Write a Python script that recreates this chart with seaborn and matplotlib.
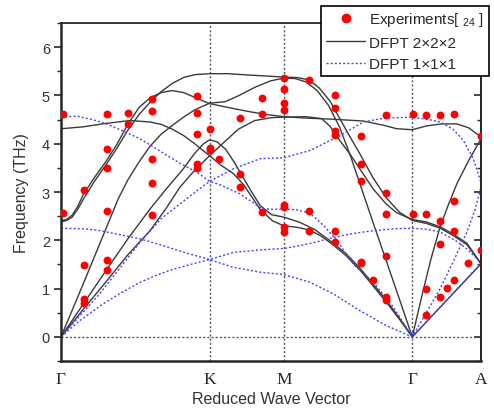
import pandas as pd
import seaborn as sns
import matplotlib.pyplot as plt
from matplotlib.lines import Line2D
from matplotlib.ticker import MultipleLocator

# high-symmetry points along the path G-K-M-G-A
sym_pos = [0.0, 0.667, 1.0, 1.577, 1.885]
sym_labels = ['Γ', 'K', 'M', 'Γ', 'A']

exp_x = [0.007, 0.007,
         0.103, 0.103, 0.103, 0.103,
         0.205, 0.205, 0.205, 0.205, 0.205, 0.205,
         0.30, 0.30,
         0.41, 0.41, 0.41, 0.41, 0.41,
         0.61, 0.61, 0.61, 0.61, 0.61,
         0.669, 0.669, 0.669, 0.711,
         0.804, 0.804, 0.804,
         0.904, 0.904, 0.901,
         1.0, 1.0, 1.0, 1.0, 1.0, 1.0, 1.0, 1.0,
         1.115, 1.115, 1.115,
         1.232, 1.232, 1.232, 1.232, 1.232, 1.232,
         1.346, 1.346, 1.346, 1.346, 1.346,
         1.402,
         1.459, 1.459, 1.459, 1.459, 1.459, 1.459,
         1.578, 1.578,
         1.639, 1.639, 1.639, 1.639,
         1.702, 1.702, 1.702, 1.702,
         1.732,
         1.762, 1.762, 1.762, 1.766,
         1.826,
         1.885, 1.885]
exp_y = [4.61, 2.57,
         3.05, 1.49, 0.78, 0.70,
         4.61, 3.89, 3.49, 2.61, 1.60, 1.39,
         4.63, 4.40,
         4.93, 4.68, 3.69, 3.18, 2.52,
         4.99, 4.63, 4.20, 3.58, 3.50,
         4.31, 3.91, 3.86, 3.69,
         4.54, 3.38, 3.11,
         4.94, 4.61, 2.59,
         5.36, 5.14, 4.84, 4.70, 2.73, 2.68, 2.27, 2.18,
         5.31, 2.61, 2.20,
         5.01, 4.74, 4.27, 4.19, 2.20, 1.96,
         4.17, 3.58, 3.22, 1.56, 1.52,
         1.18,
         4.60, 2.98, 2.55, 1.67, 0.83, 0.77,
         4.61, 2.55,
         4.59, 2.55, 1.00, 0.45,
         4.59, 2.40, 1.93, 0.82,
         1.01,
         4.61, 2.81, 2.20, 1.18,
         1.53,
         4.15, 1.79]

# DFPT 2x2x2 branches, (q, THz)
dfpt2_ac1 = [(0, 0), (0.1, 1.1), (0.183, 2.03), (0.257, 2.86), (0.3, 3.25), (0.35, 3.62),
             (0.4, 3.95), (0.45, 4.2), (0.5, 4.38), (0.55, 4.55), (0.6, 4.7), (0.667, 4.84),
             (0.737, 4.87), (0.8, 5.0), (0.871, 5.17), (0.94, 5.3), (1.0, 5.36), (1.05, 5.35),
             (1.1, 5.28), (1.15, 5.1), (1.2, 4.8), (1.25, 4.35), (1.3, 3.74), (1.4, 2.38),
             (1.5, 1.04), (1.577, 0), (1.62, 0.85), (1.66, 1.6), (1.70, 2.25), (1.74, 2.75),
             (1.78, 3.2), (1.83, 3.65), (1.885, 4.1)]
dfpt2_ac2 = [(0, 0), (0.1, 0.68), (0.2, 1.36), (0.3, 2.03), (0.4, 2.65), (0.47, 3.05),
             (0.549, 3.48), (0.6, 3.8), (0.64, 4.0), (0.667, 4.08), (0.7, 4.04), (0.74, 3.88),
             (0.78, 3.6), (0.82, 3.28), (0.856, 3.0), (0.894, 2.72), (0.946, 2.53), (1.0, 2.48),
             (1.073, 2.37), (1.14, 2.22), (1.223, 1.94), (1.28, 1.72), (1.343, 1.42), (1.4, 1.1),
             (1.462, 0.75), (1.52, 0.38), (1.577, 0)]
dfpt2_ac3 = [(0, 0), (0.1, 0.57), (0.2, 1.13), (0.3, 1.7), (0.4, 2.2), (0.47, 2.65),
             (0.534, 3.1), (0.6, 3.45), (0.667, 3.75), (0.72, 3.98), (0.796, 4.3), (0.87, 4.48),
             (0.946, 4.54), (1.0, 4.55), (1.1, 4.56), (1.17, 4.52), (1.208, 4.36), (1.238, 4.15),
             (1.298, 3.78), (1.35, 3.42), (1.402, 3.06), (1.46, 2.75), (1.507, 2.57), (1.577, 2.43),
             (1.64, 2.38), (1.702, 2.28), (1.76, 2.13), (1.822, 1.94), (1.885, 1.52)]
dfpt2_op1 = [(0, 2.41), (0.025, 2.43), (0.05, 2.52), (0.075, 2.7), (0.1, 2.95), (0.15, 3.3),
             (0.2, 3.62), (0.25, 3.98), (0.3, 4.4), (0.35, 4.75), (0.4, 4.95), (0.45, 5.06),
             (0.5, 5.1), (0.55, 5.06), (0.6, 4.96), (0.667, 4.83), (0.75, 4.75), (0.85, 4.66),
             (0.93, 4.6), (1.0, 4.56), (1.1, 4.53), (1.208, 4.51), (1.357, 4.47), (1.45, 4.38),
             (1.507, 4.31), (1.577, 4.29), (1.642, 4.37), (1.71, 4.41), (1.777, 4.41),
             (1.83, 4.33), (1.885, 4.14)]
dfpt2_op2 = [(0, 2.38), (0.025, 2.41), (0.05, 2.48), (0.075, 2.64), (0.1, 2.85), (0.15, 3.22),
             (0.2, 3.55), (0.25, 3.9), (0.3, 4.28), (0.35, 4.6), (0.4, 4.86), (0.45, 5.08),
             (0.5, 5.25), (0.55, 5.37), (0.6, 5.43), (0.667, 5.45), (0.75, 5.45), (0.85, 5.42),
             (0.93, 5.4), (1.0, 5.38), (1.06, 5.37), (1.115, 5.32), (1.16, 5.15), (1.208, 4.88),
             (1.26, 4.45), (1.3, 4.12), (1.343, 3.78), (1.4, 3.3), (1.46, 2.88), (1.52, 2.58),
             (1.577, 2.41), (1.64, 2.35), (1.702, 2.25), (1.76, 2.1), (1.822, 1.91), (1.885, 1.52)]
dfpt2_op3 = [(0, 4.31), (0.1, 4.35), (0.2, 4.42), (0.31, 4.48), (0.4, 4.45), (0.45, 4.4),
             (0.5, 4.3), (0.55, 4.17), (0.6, 4.0), (0.667, 3.75), (0.72, 3.55), (0.774, 3.38),
             (0.82, 3.15), (0.894, 2.64), (0.95, 2.4), (1.0, 2.3), (1.06, 2.27), (1.118, 2.21),
             (1.17, 2.08), (1.223, 1.9), (1.28, 1.68), (1.343, 1.38), (1.4, 1.06), (1.462, 0.71),
             (1.52, 0.36), (1.577, 0)]
dfpt2_ga = [(1.577, 0), (1.885, 1.51)]

# DFPT 1x1x1 branches
dfpt1_top = [(0, 4.55), (0.07, 4.57), (0.14, 4.5), (0.205, 4.41), (0.28, 4.26), (0.355, 4.1),
             (0.42, 3.92), (0.475, 3.76), (0.54, 3.58), (0.61, 3.41), (0.667, 3.22), (0.714, 3.15),
             (0.804, 2.96), (0.901, 2.66), (0.95, 2.64), (1.0, 2.65), (1.06, 2.63), (1.118, 2.56),
             (1.18, 2.3), (1.238, 2.0), (1.313, 1.5), (1.402, 1.13), (1.492, 0.62), (1.577, 0),
             (1.64, 0.5), (1.702, 1.0), (1.76, 1.55), (1.822, 2.17), (1.86, 2.65), (1.885, 3.1)]
dfpt1_ac = [(0, 0), (0.175, 0.9), (0.355, 1.96), (0.45, 2.45), (0.564, 2.86), (0.62, 3.06),
            (0.667, 3.22), (0.774, 3.48), (0.894, 3.69), (1.0, 3.71), (1.118, 3.86), (1.253, 4.17),
            (1.357, 4.45), (1.45, 4.53), (1.575, 4.55), (1.65, 4.5), (1.702, 4.45), (1.76, 4.3),
            (1.806, 4.07), (1.85, 3.7), (1.885, 3.2)]
dfpt1_mid = [(0, 2.25), (0.1, 2.24), (0.175, 2.2), (0.26, 2.12), (0.355, 2.03), (0.43, 1.93),
             (0.504, 1.82), (0.59, 1.7), (0.667, 1.6), (0.774, 1.75), (0.894, 1.8), (1.0, 1.83),
             (1.073, 1.89), (1.15, 1.97), (1.223, 2.06), (1.31, 2.14), (1.402, 2.2), (1.5, 2.24),
             (1.575, 2.25), (1.64, 2.23), (1.702, 2.17), (1.77, 2.0), (1.822, 1.82), (1.885, 1.54)]
dfpt1_low = [(0, 0), (0.08, 0.32), (0.175, 0.64), (0.265, 0.9), (0.355, 1.13), (0.43, 1.28),
             (0.504, 1.4), (0.59, 1.51), (0.667, 1.6), (0.774, 1.44), (0.894, 1.34), (1.0, 1.29),
             (1.118, 1.13), (1.223, 0.89), (1.343, 0.54), (1.462, 0.23), (1.577, 0), (1.885, 1.52)]


def to_frame(branches):
    rows = []
    for i, br in enumerate(branches):
        for q, f in br:
            rows.append((i, q, f))
    return pd.DataFrame(rows, columns=['branch', 'q', 'freq'])


df_222 = to_frame([dfpt2_ac1, dfpt2_ac2, dfpt2_ac3, dfpt2_op1, dfpt2_op2, dfpt2_op3, dfpt2_ga])
df_111 = to_frame([dfpt1_top, dfpt1_ac, dfpt1_mid, dfpt1_low])

sns.set_style('ticks')
plt.rcParams['font.family'] = ['Liberation Sans', 'DejaVu Sans']

fig = plt.figure(figsize=(4.94, 4.10), dpi=100)
ax = fig.add_axes([0.1235, 0.117, 0.850, 0.8245])

dot_style = (0, (1.5, 1.5))
for xv in sym_pos[1:4]:
    ax.axvline(xv, color='#555555', ls=dot_style, lw=1, zorder=1)
ax.axhline(0, color='#555555', ls=dot_style, lw=1, zorder=1)

sns.lineplot(data=df_222, x='q', y='freq', units='branch', estimator=None, sort=False,
             color='#3a3a3a', lw=1.0, ax=ax, legend=False, zorder=2)
sns.lineplot(data=df_111, x='q', y='freq', units='branch', estimator=None, sort=False,
             color='#4444ff', lw=1.0, linestyle=dot_style, ax=ax, legend=False, zorder=2)
sns.scatterplot(x=exp_x, y=exp_y, color='red', s=32, linewidth=0, ax=ax, zorder=4)

ax.set_xlim(sym_pos[0], sym_pos[-1])
ax.set_ylim(-0.5, 6.5)
ax.set_xticks(sym_pos, sym_labels, fontfamily='Liberation Serif', fontsize=12.5)
ax.tick_params(axis='x', length=0, pad=7, colors='#222222')
ax.set_yticks(range(7))
ax.yaxis.set_minor_locator(MultipleLocator(0.5))
ax.tick_params(axis='y', which='major', direction='out', length=5, width=1.2,
               labelsize=10.5, labelcolor='#333333', pad=3)
ax.tick_params(axis='y', which='minor', direction='out', length=3, width=1.0)
right = ax.secondary_yaxis('right')
right.set_yticks(range(7))
right.yaxis.set_minor_locator(MultipleLocator(0.5))
right.tick_params(which='major', direction='in', length=5, width=1.2, labelright=False)
right.tick_params(which='minor', direction='in', length=3, width=1.0)
right.spines['right'].set_linewidth(1.3)

ax.spines['left'].set_linewidth(1.8)
ax.spines['bottom'].set_linewidth(1.8)
ax.spines['top'].set_linewidth(1.3)
ax.spines['right'].set_linewidth(1.3)

ax.set_xlabel('Reduced Wave Vector', fontsize=11.5, color='#333333', labelpad=3)
ax.set_ylabel('Frequency (THz)', fontsize=11.5, color='#333333', labelpad=9)

handles = [Line2D([], [], marker='o', color='red', ls='none', markersize=6),
           Line2D([], [], color='#3a3a3a', lw=1.0),
           Line2D([], [], color='#4444ff', lw=1.0, ls=dot_style)]
labels = [r'Experiments[ $\mathregular{_{24}}$ ]', 'DFPT 2×2×2', 'DFPT 1×1×1']
leg = fig.legend(handles, labels, loc='upper left', bbox_to_anchor=(0.650, 0.984),
                 frameon=True, fancybox=False, edgecolor='black', framealpha=1,
                 fontsize=11, handlelength=2.6, handletextpad=0.25, labelspacing=0.5,
                 borderpad=0.3, borderaxespad=0)
leg.get_frame().set_linewidth(1.2)

fig.savefig('out.png', dpi=100)
